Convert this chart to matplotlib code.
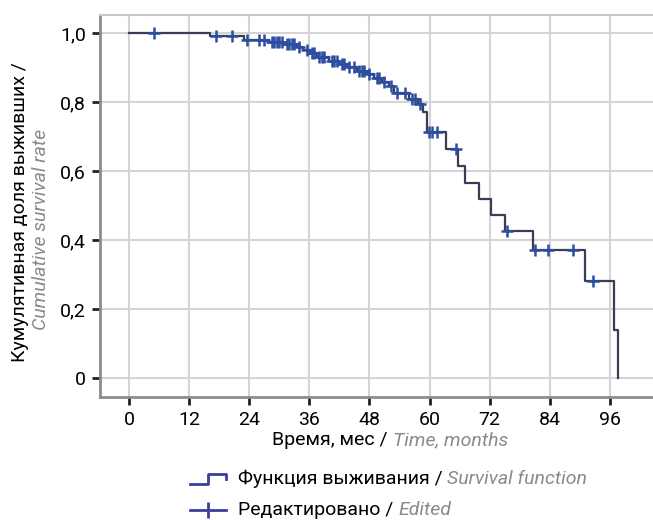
import numpy as np
import matplotlib
matplotlib.use("Agg")
import matplotlib.pyplot as plt
from matplotlib.lines import Line2D
from matplotlib.ticker import FuncFormatter

plt.rcParams["font.family"] = ["Roboto", "DejaVu Sans"]

# step points of the survival curve (time in months, survival after the step)
event_t = [16.2, 23.0, 28.0, 31.0, 33.5, 34.8, 36.2, 37.5, 40.0, 42.0, 43.5, 45.5,
           47.5, 49.0, 50.5, 52.0, 52.8, 55.8, 57.6, 58.6, 59.4, 63.2, 65.6, 67.0,
           69.8, 72.2, 75.0, 80.7, 91.0, 96.8, 97.6]
event_s = [0.992, 0.980, 0.975, 0.968, 0.960, 0.950, 0.942, 0.930, 0.920, 0.910,
           0.900, 0.890, 0.880, 0.870, 0.858, 0.845, 0.826, 0.810, 0.795, 0.770,
           0.712, 0.664, 0.614, 0.566, 0.518, 0.472, 0.425, 0.372, 0.281, 0.139, 0.0]

# censored observations
censor_t = [5, 17.4, 20.5, 23.5, 26, 27, 28.5, 29, 29.5, 30, 30.5, 31.5, 32, 32.5, 33,
            34, 35.5, 36.5, 37, 38, 38.5, 39, 40.5, 41, 41.5, 42.5, 43, 44, 45, 46,
            46.5, 47, 48, 49.5, 50, 51, 52.3, 53.5, 55, 56.5, 57, 58, 59.8, 60.5,
            61.5, 65.3, 75.5, 81, 83.6, 88.6, 92.6]

xticks = [0, 12, 24, 36, 48, 60, 72, 84, 96]
yticks = [0, 0.2, 0.4, 0.6, 0.8, 1.0]

line_col = "#3a3d55"
mark_col = "#2b4ea0"
gray = "#8a8a8a"

t_all = np.array([0.0] + event_t)
s_all = np.array([1.0] + event_s)
idx = np.searchsorted(t_all, censor_t, side="right") - 1
censor_s = s_all[idx]

fig = plt.figure(figsize=(6.53, 5.2), dpi=100)
ax = fig.add_axes([100 / 653, 1 - 397 / 520, 580 / 653, 382 / 520])

ax.step(t_all, s_all, where="post", color=line_col, lw=1.6, zorder=3)
ax.plot(censor_t, censor_s, ls="none", marker="+", ms=8, mew=1.8,
        color=mark_col, zorder=4)

ax.set_xlim(-5.8, 110)
ax.set_ylim(-0.055, 1.052)
ax.set_xticks(xticks)
ax.set_yticks(yticks)
ax.yaxis.set_major_formatter(FuncFormatter(
    lambda v, p: "0" if v == 0 else f"{v:.1f}".replace(".", ",")))
ax.grid(True, color="#d4d4d4", lw=1.5)
ax.set_axisbelow(True)
ax.tick_params(axis="both", length=6, width=2, color="#222222",
               labelsize=14, pad=4)
for side in ["left", "bottom"]:
    ax.spines[side].set_color("#8c8c8c")
    ax.spines[side].set_linewidth(2)
ax.spines["top"].set_color("#c8c8c8")
ax.spines["top"].set_linewidth(1.5)
ax.spines["right"].set_visible(False)

fig.canvas.draw()
rend = fig.canvas.get_renderer()


def two_part(x, y, a, b, size=14, center=False):
    t1 = fig.text(x, y, a, color="black", fontsize=size, va="center")
    t2 = fig.text(x, y, b, color=gray, fontsize=size, va="center", style="italic")
    w1 = t1.get_window_extent(rend).width / fig.bbox.width
    w2 = t2.get_window_extent(rend).width / fig.bbox.width
    x0 = x - (w1 + w2) / 2 if center else x
    t1.set_x(x0)
    t2.set_x(x0 + w1)


two_part(390 / 653, 1 - 440 / 520, "Время, мес / ", "Time, months", center=True)
two_part(238 / 653, 1 - 479 / 520, "Функция выживания / ", "Survival function")
two_part(238 / 653, 1 - 510 / 520, "Редактировано / ", "Edited")

fig.text(20 / 653, 1 - 212 / 520, "Кумулятивная доля выживших /", rotation=90,
         ha="center", va="center", fontsize=14)
fig.text(41 / 653, 1 - 229 / 520, "Cumulative survival rate", rotation=90,
         ha="center", va="center", fontsize=14, color=gray, style="italic")

# legend glyphs
W, H = 653, 520
fig.add_artist(Line2D(np.array([190, 208, 208, 226, 226]) / W,
                      1 - np.array([484, 484, 474, 474, 479]) / H,
                      color="#3b3f99", lw=2))
fig.add_artist(Line2D(np.array([190, 226]) / W, 1 - np.array([510, 510]) / H,
                      color="#3b3f99", lw=2))
fig.add_artist(Line2D([208 / W], [1 - 510 / H], marker="|", ms=11, mew=2,
                      color="#3b3f99"))

fig.savefig("out.png", dpi=100)
